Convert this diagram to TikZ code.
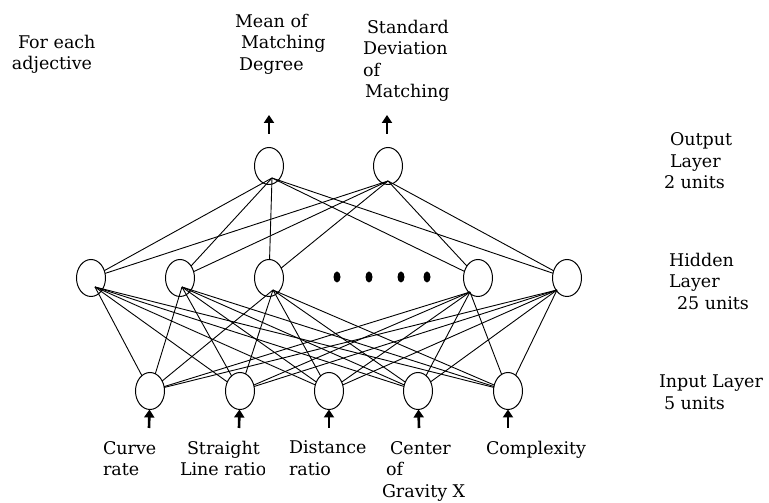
\documentclass[tikz,border=0pt]{standalone}
\usepackage{fontspec}
\setmainfont{DejaVu Serif}
\usetikzlibrary{shapes.geometric,arrows.meta}

\begin{document}
\begin{tikzpicture}
  [x=1pt,y=1pt,
   neuron/.style={ellipse,draw=black,line width=1pt,inner sep=0,outer sep=0,
                  minimum width=29pt,minimum height=37pt},
   ellipsis/.style={ellipse,fill=black,inner sep=0,outer sep=0,
                    minimum width=7pt,minimum height=11pt},
   signal/.style={line width=2.6pt,-{Triangle[width=10pt,length=8pt]}},
   wire/.style={line width=0.9pt},
   note/.style={anchor=north west,align=left,inner sep=0,outer sep=0}]
  \fontsize{17.5}{21.5}\selectfont
  \useasboundingbox (0,0) rectangle (769,503);
  % output layer
  \node[neuron] (o1) at (269,337) {};
  \node[neuron] (o2) at (388,337) {};
  \coordinate (o1c) at (272,325);
  \coordinate (o2c) at (388,322);
  % hidden layer
  \node[neuron] (h1) at (91,225) {};
  \node[neuron] (h2) at (180,225) {};
  \node[neuron] (h3) at (269,225) {};
  \node[neuron] (h4) at (478,225) {};
  \node[neuron] (h5) at (567,225) {};
  \node[ellipsis] (dot1) at (337,226) {};
  \node[ellipsis] (dot2) at (369,226) {};
  \node[ellipsis] (dot3) at (401,226) {};
  \node[ellipsis] (dot4) at (427,226) {};
  \coordinate (h1c) at (95,216);
  \coordinate (h2c) at (182,216);
  \coordinate (h3c) at (273,213);
  \coordinate (h4c) at (470,211);
  \coordinate (h5c) at (557,213);
  % input layer
  \node[neuron] (in1) at (150,112) {};
  \node[neuron] (in2) at (240,112) {};
  \node[neuron] (in3) at (329,112) {};
  \node[neuron] (in4) at (418,112) {};
  \node[neuron] (in5) at (508,112) {};
  % texts
  \node[note] (adj) at (12,468) {\hspace*{6pt}For each\\adjective};
  \node[note] (mean) at (235,489) {Mean of\\\hspace*{6pt}Matching\\\hspace*{4pt}Degree};
  \node[note] (sdev) at (363,483) {\hspace*{4pt}Standard\\Deviation\\of\\\hspace*{2pt}Matching};
  \node[note] (outl) at (664,370) {\hspace*{6pt}Output\\\hspace*{6pt}Layer\\2 units};
  \node[note] (hidl) at (669,250) {Hidden\\Layer\\\hspace*{8pt}25 units};
  \node[note] (inl) at (659,128) {Input Layer\\\hspace*{5pt}5 units};
  \node[note] (curve) at (103,61.5) {Curve\\rate};
  \begin{scope}
    \clip (170,0) rectangle (264,80);
    \node[note] (straight) at (180,62) {\hspace*{7pt}Straight\\Line ratio};
  \end{scope}
  \begin{scope}
    \clip (280,0) rectangle (366,80);
    \node[note] (dist) at (289,62) {Distance\\ratio};
  \end{scope}
  \node[note] (grav) at (382,61.5) {\hspace*{8pt}Center\\\hspace*{4pt}of\\Gravity X};
  \node[note] (cplx) at (486,62) {Complexity};
  % hidden to output
  \draw[wire] (h1) -- (o1c);
  \draw[wire] (h2) -- (o1c);
  \draw[wire] (h3) -- (o1c);
  \draw[wire] (h4) -- (o1c);
  \draw[wire] (h5) -- (o1c);
  \draw[wire] (h1) -- (o2c);
  \draw[wire] (h2) -- (o2c);
  \draw[wire] (h3) -- (o2c);
  \draw[wire] (h4) -- (o2c);
  \draw[wire] (h5) -- (o2c);
  % input to hidden
  \draw[wire] (in1) -- (h1c);
  \draw[wire] (in1) -- (h2c);
  \draw[wire] (in1) -- (h3c);
  \draw[wire] (in1) -- (h4c);
  \draw[wire] (in1) -- (h5c);
  \draw[wire] (in2) -- (h1c);
  \draw[wire] (in2) -- (h2c);
  \draw[wire] (in2) -- (h3c);
  \draw[wire] (in2) -- (h4c);
  \draw[wire] (in2) -- (h5c);
  \draw[wire] (in3) -- (h1c);
  \draw[wire] (in3) -- (h2c);
  \draw[wire] (in3) -- (h3c);
  \draw[wire] (in3) -- (h4c);
  \draw[wire] (in3) -- (h5c);
  \draw[wire] (in4) -- (h1c);
  \draw[wire] (in4) -- (h2c);
  \draw[wire] (in4) -- (h3c);
  \draw[wire] (in4) -- (h4c);
  \draw[wire] (in4) -- (h5c);
  \draw[wire] (in5) -- (h1c);
  \draw[wire] (in5) -- (h2c);
  \draw[wire] (in5) -- (h3c);
  \draw[wire] (in5) -- (h4c);
  \draw[wire] (in5) -- (h5c);
  % signals in and out
  \coordinate (t1) at (269,369);
  \coordinate (t2) at (387,369);
  \draw[signal] (t1) -- ++(0,19);
  \draw[signal] (t2) -- ++(0,19);
  \coordinate (s1) at (149,75);
  \coordinate (s2) at (239,75);
  \coordinate (s3) at (329,75);
  \coordinate (s4) at (419,75);
  \coordinate (s5) at (508,75);
  \draw[signal] (s1) -- (in1);
  \draw[signal] (s2) -- (in2);
  \draw[signal] (s3) -- (in3);
  \draw[signal] (s4) -- (in4);
  \draw[signal] (s5) -- (in5);
\end{tikzpicture}
\end{document}
